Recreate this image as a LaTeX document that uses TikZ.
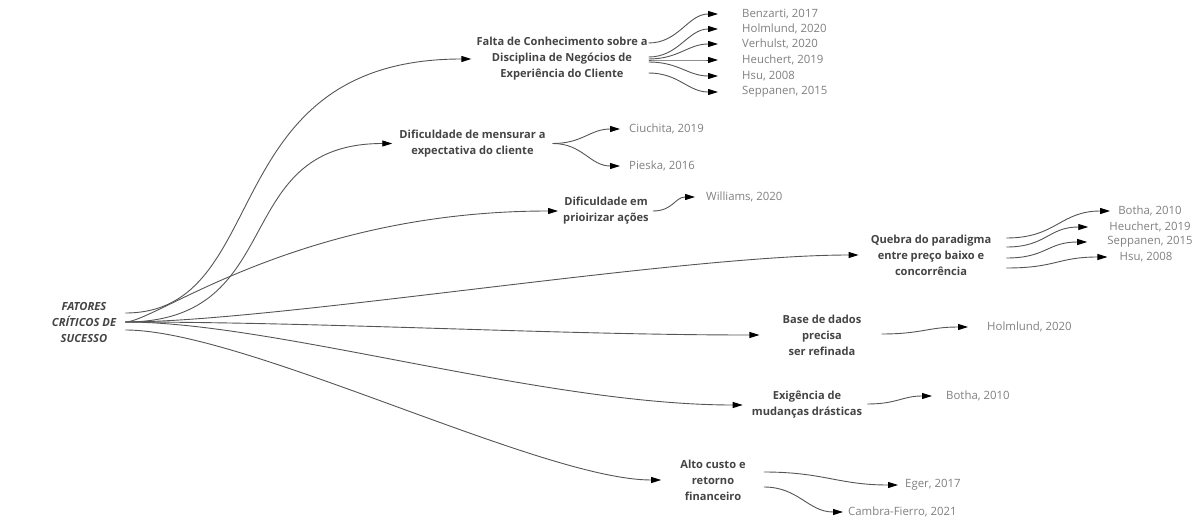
\documentclass[tikz,border=0pt]{standalone}
\usepackage{fontspec}
\setmainfont{Open Sans}
\usetikzlibrary{arrows.meta,calc}
\definecolor{labelgrey}{HTML}{444444}
\definecolor{refgrey}{HTML}{808080}
\definecolor{linegrey}{HTML}{555555}
\begin{document}
\begin{tikzpicture}[x=1pt,y=-1pt,
  factor/.style={inner sep=0pt,align=center,text=labelgrey,
    font=\fontsize{11.1}{16}\selectfont\bfseries},
  rootlabel/.style={factor,font=\fontsize{11.2}{16}\selectfont\bfseries\itshape},
  ref/.style={inner sep=0pt,anchor=west,text=refgrey,
    font=\fontsize{11.4}{16}\selectfont},
  refc/.style={ref,anchor=center},
  conn/.style={draw=linegrey,line width=0.9pt,
    -{Triangle[length=10pt,width=6pt,color=black]}}]
\useasboundingbox (0,0) rectangle (1198,524);

% root and factor nodes
\node[rootlabel] (root) at (84,322) {FATORES\\CRÍTICOS DE\\SUCESSO};
\node[factor] (falta) at (562,59) {Falta de Conhecimento sobre a\\Disciplina de Negócios de\\Experiência do Cliente};
\node[factor] (mens) at (472.5,143.5) {Dificuldade de mensurar a\\expectativa do cliente};
\node[factor] (prio) at (606,211) {Dificuldade em\\prioirizar ações};
\node[factor] (queb) at (931,255) {Quebra do paradigma\\entre preço baixo e\\concorrência};
\node[factor] (base) at (822,335) {Base de dados\\precisa\\ser refinada};
\node[factor] (exig) at (807,405) {Exigência de\\mudanças drásticas};
\node[factor] (alto) at (713,480) {Alto custo e\\retorno\\financeiro};

% references
\node[ref] (benz) at (742,14) {Benzarti, 2017};
\node[ref] (holmA) at (742,29) {Holmlund, 2020};
\node[ref] (verh) at (742,44) {Verhulst, 2020};
\node[ref] (heuA) at (742,60) {Heuchert, 2019};
\node[ref] (hsuA) at (742,76) {Hsu, 2008};
\node[ref] (seppA) at (742,92) {Seppanen, 2015};
\node[ref] (ciu) at (629,129) {Ciuchita, 2019};
\node[ref] (pie) at (629,166) {Pieska, 2016};
\node[ref] (wil) at (706,197) {Williams, 2020};
\node[refc] (botA) at (1150,211) {Botha, 2010};
\node[refc] (heuB) at (1150,227) {Heuchert, 2019};
\node[refc] (seppB) at (1150,242) {Seppanen, 2015};
\node[refc] (hsuB) at (1146,257) {Hsu, 2008};
\node[ref] (holmB) at (987,327) {Holmlund, 2020};
\node[ref] (botB) at (946,396) {Botha, 2010};
\node[ref] (eger) at (905,485) {Eger, 2017};
\node[ref] (cam) at (848,512) {Cambra-Fierro, 2021};

% start points of the root connectors
\coordinate (ra) at ($(root.east)+(9,-9)$);
\coordinate (rb) at ($(root.east)+(9,0)$);
\coordinate (rc) at ($(root.east)+(9,8)$);

% root to factors
\draw[conn] (ra) .. controls +(150,0) and +(-260,0) .. ($(falta.west)+(-5,0)$);
\draw[conn] (rb) .. controls +(165,0) and +(-165,0) .. ($(mens.west)+(-7,0)$);
\draw[conn] (rb) .. controls +(30,0) and +(-260,0) .. ($(prio.west)+(-5,0)$);
\draw[conn] (rb) .. controls +(150,0) and +(-180,0) .. ($(queb.west)+(-12,0)$);
\draw[conn] (rb) .. controls +(200,0) and +(-200,0) .. ($(base.west)+(-23,0)$);
\draw[conn] (rb) .. controls +(150,0) and +(-200,0) .. ($(exig.west)+(-9,0)$);
\draw[conn] (rc) .. controls +(120,0) and +(-120,0) .. ($(alto.west)+(-19,0)$);

% factor 1 references
\draw[conn] ($(falta.east)+(1,-16)$) .. controls +(30,0) and +(-30,0) .. ($(benz.west)+(-24,0)$);
\draw[conn] ($(falta.east)+(1,-2)$) .. controls +(30,0) and +(-30,0) .. ($(holmA.west)+(-24,0)$);
\draw[conn] ($(falta.east)+(1,0)$) .. controls +(30,0) and +(-30,0) .. ($(verh.west)+(-24,0)$);
\draw[conn] ($(falta.east)+(1,1)$) .. controls +(30,0) and +(-30,0) .. ($(heuA.west)+(-24,0)$);
\draw[conn] ($(falta.east)+(1,3)$) .. controls +(30,0) and +(-30,0) .. ($(hsuA.west)+(-24,0)$);
\draw[conn] ($(falta.east)+(1,14)$) .. controls +(30,0) and +(-30,0) .. ($(seppA.west)+(-24,0)$);

% factor 2 references
\draw[conn] ($(mens.east)+(7,0)$) .. controls +(30,0) and +(-30,0) .. ($(ciu.west)+(-9,0)$);
\draw[conn] ($(mens.east)+(7,0)$) .. controls +(30,0) and +(-30,0) .. ($(pie.west)+(-9,0)$);

% factor 3 reference
\draw[conn] ($(prio.east)+(4,0)$) .. controls +(20,0) and +(-20,0) .. ($(wil.west)+(-11,0)$);

% factor 4 references
\draw[conn] ($(queb.east)+(15,-17)$) .. controls +(50,0) and +(-50,0) .. ($(botA.west)+(-8,0)$);
\draw[conn] ($(queb.east)+(15,-8)$) .. controls +(40,0) and +(-40,0) .. ($(heuB.west)+(-21,0)$);
\draw[conn] ($(queb.east)+(15,3)$) .. controls +(40,0) and +(-40,0) .. ($(seppB.west)+(-20,0)$);
\draw[conn] ($(queb.east)+(15,13)$) .. controls +(50,0) and +(-50,0) .. ($(hsuB.west)+(-12,0)$);

% factors 5 to 7 references
\draw[conn] ($(base.east)+(20,-1)$) .. controls +(40,0) and +(-40,0) .. ($(holmB.west)+(-19,0)$);
\draw[conn] ($(exig.east)+(5,-1)$) .. controls +(30,0) and +(-30,0) .. ($(botB.west)+(-14,0)$);
\draw[conn] ($(alto.east)+(18,-8)$) .. controls +(60,0) and +(-60,0) .. ($(eger.west)+(-7,0)$);
\draw[conn] ($(alto.east)+(18,7)$) .. controls +(35,0) and +(-35,0) .. ($(cam.west)+(-5,0)$);
\end{tikzpicture}
\end{document}
